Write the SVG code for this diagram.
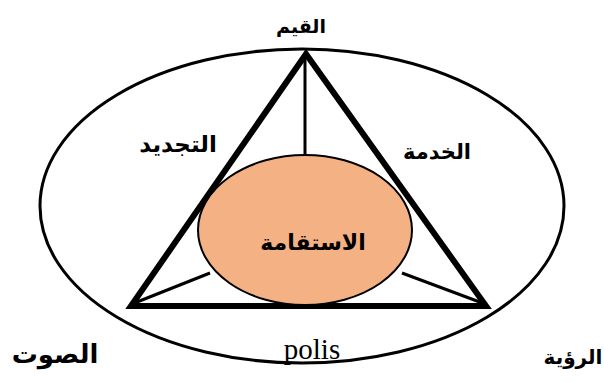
<svg xmlns="http://www.w3.org/2000/svg" width="604" height="383" viewBox="0 0 604 383">
<style>
.ar{font-family:"DejaVu Sans","Noto Sans",sans-serif;font-weight:bold;fill:#000;text-anchor:middle}
.ln{stroke:#000;fill:none}
</style>
<rect width="604" height="383" fill="#fff"/>
<g id="outer">
<ellipse cx="302" cy="206" rx="262" ry="157" class="ln" stroke-width="3"/>
</g>
<g id="connectors">
<line x1="305" y1="55" x2="305" y2="158" class="ln" stroke-width="3"/>
<line x1="132" y1="304" x2="210" y2="273" class="ln" stroke-width="3"/>
<line x1="485" y1="304" x2="402" y2="273" class="ln" stroke-width="3"/>
</g>
<g id="triangle">
<polygon points="306,54 131,306 486,306" class="ln" stroke-width="6" stroke-linejoin="miter"/>
</g>
<g id="center">
<ellipse cx="305" cy="230" rx="107" ry="75" fill="#F4B183" stroke="#000" stroke-width="2"/>
<text x="313" y="250" class="ar" font-size="22">الاستقامة</text>
</g>
<g id="top"><text x="301" y="33" class="ar" font-size="19">القيم</text></g>
<g id="left-edge"><text x="178" y="152" class="ar" font-size="23">التجديد</text></g>
<g id="right-edge"><text x="437" y="159" class="ar" font-size="21">الخدمة</text></g>
<g id="bottom-left"><text x="55" y="363" class="ar" font-size="26">الصوت</text></g>
<g id="bottom-right"><text x="573" y="364" class="ar" font-size="20">الرؤية</text></g>
<g id="polis"><text x="312" y="359" font-family="Liberation Serif,serif" font-size="29" text-anchor="middle">polis</text></g>
</svg>
